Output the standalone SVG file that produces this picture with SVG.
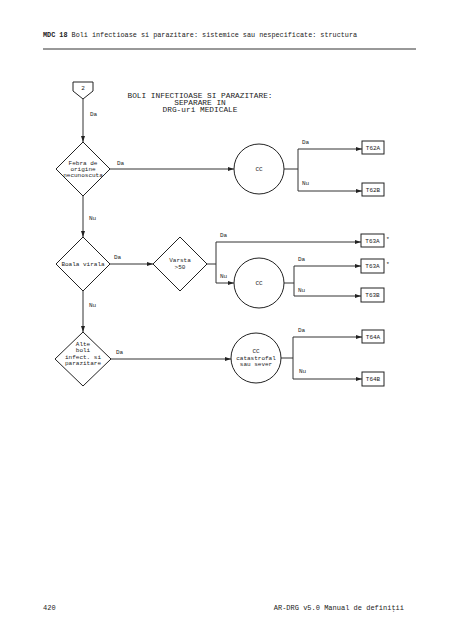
<svg xmlns="http://www.w3.org/2000/svg" width="452" height="640" viewBox="0 0 452 640">
<style>
.t{font-family:"Liberation Mono","DejaVu Sans Mono",monospace;fill:#222}
.n{font-size:6px;text-anchor:middle}
.l{font-size:6px}
.s{fill:#fff;stroke:#222;stroke-width:1}
.c{fill:none;stroke:#333;stroke-width:1}
</style>
<defs>
<marker id="a" viewBox="0 0 6 4" refX="6" refY="2" markerWidth="6" markerHeight="4" markerUnits="userSpaceOnUse" orient="auto">
<path d="M0,0 L6,2 L0,4 z" fill="#222"/>
</marker>
</defs>
<rect width="452" height="640" fill="#fff"/>
<g id="header">
<text class="t" x="43" y="37" font-size="6.8"><tspan font-weight="bold">MDC 18</tspan> Boli infectioase si parazitare: sistemice sau nespecificate: structura</text>
<line x1="43" y1="49" x2="416" y2="49" stroke="#333" stroke-width="1"/>
</g>
<g id="title">
<text class="t" x="200" y="98" font-size="7.8" text-anchor="middle">BOLI INFECTIOASE SI PARAZITARE:</text>
<text class="t" x="200" y="105" font-size="7.8" text-anchor="middle">SEPARARE IN</text>
<text class="t" x="200" y="112" font-size="7.8" text-anchor="middle">DRG-uri MEDICALE</text>
</g>
<g id="connectors">
<path class="c" d="M83,99 V142" marker-end="url(#a)"/>
<path class="c" d="M110,169 H234" marker-end="url(#a)"/>
<path class="c" d="M284,169 H298 M298,149 V191"/>
<path class="c" d="M298,149 H362" marker-end="url(#a)"/>
<path class="c" d="M298,191 H362" marker-end="url(#a)"/>
<path class="c" d="M83,196 V237" marker-end="url(#a)"/>
<path class="c" d="M110,264 H153" marker-end="url(#a)"/>
<path class="c" d="M207,264 H216 M216,242 V283"/>
<path class="c" d="M216,242 H361" marker-end="url(#a)"/>
<path class="c" d="M216,283 H234" marker-end="url(#a)"/>
<path class="c" d="M284,283 H294 M294,266 V296"/>
<path class="c" d="M294,266 H361" marker-end="url(#a)"/>
<path class="c" d="M294,296 H361" marker-end="url(#a)"/>
<path class="c" d="M83,291 V332" marker-end="url(#a)"/>
<path class="c" d="M111,359 H231" marker-end="url(#a)"/>
<path class="c" d="M281,358 H293 M293,337 V379"/>
<path class="c" d="M293,337 H362" marker-end="url(#a)"/>
<path class="c" d="M293,379 H362" marker-end="url(#a)"/>
<text class="t l" x="90" y="116">Da</text>
<text class="t l" x="117" y="165">Da</text>
<text class="t l" x="302" y="144">Da</text>
<text class="t l" x="302" y="185">Nu</text>
<text class="t l" x="89" y="220">Nu</text>
<text class="t l" x="114" y="259">Da</text>
<text class="t l" x="220" y="237">Da</text>
<text class="t l" x="220" y="278">Nu</text>
<text class="t l" x="298" y="261">Da</text>
<text class="t l" x="298" y="292">Nu</text>
<text class="t l" x="89" y="307">Nu</text>
<text class="t l" x="116" y="354">Da</text>
<text class="t l" x="298" y="332">Da</text>
<text class="t l" x="299" y="373">Nu</text>
</g>
<g id="start">
<path class="s" d="M73,82 H93 V91 L83,99 L73,91 Z"/>
<text class="t n" x="83" y="90">2</text>
</g>
<g id="d_febra">
<path class="s" d="M83,142 L110,169 L83,196 L56,169 Z"/>
<text class="t n" x="83" y="165">Febra de</text>
<text class="t n" x="83" y="171">origine</text>
<text class="t n" x="83" y="177">necunoscuta</text>
</g>
<g id="cc1">
<circle class="s" cx="259" cy="169" r="25"/>
<text class="t n" x="259" y="171">CC</text>
</g>
<g id="T62A"><rect class="s" x="362" y="141" width="22" height="13"/><text class="t n" x="373" y="150">T62A</text></g>
<g id="T62B"><rect class="s" x="362" y="183" width="22" height="13"/><text class="t n" x="373" y="192">T62B</text></g>
<g id="d_virala">
<path class="s" d="M83,237 L110,264 L83,291 L56,264 Z"/>
<text class="t n" x="83" y="266">Boala virala</text>
</g>
<g id="d_varsta">
<path class="s" d="M180,237 L207,264 L180,291 L153,264 Z"/>
<text class="t n" x="180" y="262">Varsta</text>
<text class="t n" x="180" y="269">&gt;50</text>
</g>
<g id="T63A_1"><rect class="s" x="361" y="234" width="23" height="13"/><text class="t n" x="372.5" y="243">T63A</text><text class="t l" x="386" y="241">*</text></g>
<g id="cc2">
<circle class="s" cx="259" cy="283" r="25"/>
<text class="t n" x="259" y="285">CC</text>
</g>
<g id="T63A_2"><rect class="s" x="361" y="259" width="23" height="14"/><text class="t n" x="372.5" y="268">T63A</text><text class="t l" x="386" y="266">*</text></g>
<g id="T63B"><rect class="s" x="361" y="288" width="23" height="14"/><text class="t n" x="372.5" y="297">T63B</text></g>
<g id="d_alte">
<path class="s" d="M83,332 L111,359 L83,386 L55,359 Z"/>
<text class="t n" x="83" y="346">Alte</text>
<text class="t n" x="83" y="352">boli</text>
<text class="t n" x="83" y="358.5">infect. si</text>
<text class="t n" x="83" y="365">parazitare</text>
</g>
<g id="cc3">
<circle class="s" cx="256" cy="358" r="25"/>
<text class="t n" x="256" y="353">CC</text>
<text class="t n" x="256" y="359.5">catastrofal</text>
<text class="t n" x="256" y="366">sau sever</text>
</g>
<g id="T64A"><rect class="s" x="362" y="330" width="22" height="13"/><text class="t n" x="373" y="339">T64A</text></g>
<g id="T64B"><rect class="s" x="362" y="372" width="22" height="14"/><text class="t n" x="373" y="381">T64B</text></g>
<g id="footer">
<text class="t" x="43" y="610" font-size="7">420</text>
<text class="t" x="404" y="610" font-size="7" text-anchor="end">AR-DRG v5.0 Manual de definiţii</text>
</g>
</svg>
